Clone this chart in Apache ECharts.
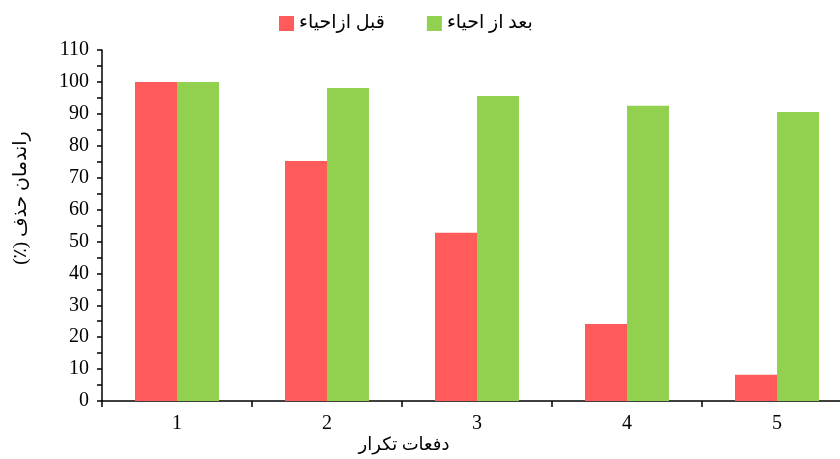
<!DOCTYPE html>
<html>
<head>
<meta charset="utf-8">
<script src="https://cdn.jsdelivr.net/npm/echarts@6/dist/echarts.min.js"></script>
<style>
html,body{margin:0;padding:0;background:#fff}
#chart{width:840px;height:459px}
</style>
</head>
<body>
<div id="chart"></div>
<script>
// داده ها
var categories = ['1', '2', '3', '4', '5']
var beforeName = 'قبل ازاحیاء'
var afterName = 'بعد از احیاء'
var beforeValues = [100, 75.2, 52.7, 24.1, 8.2]
var afterValues = [100, 98.1, 95.6, 92.5, 90.6]
var yTicks = { min: 0, max: 110, step: 10 }

var font = '"Liberation Serif", "DejaVu Serif", "DejaVu Sans", serif'

var chart = echarts.init(document.getElementById('chart'))
chart.setOption({
  animation: false,
  color: ['#FF5B5B', '#92D050'],
  textStyle: { fontFamily: font, color: '#000' },
  title: {
    text: 'دفعات تکرار',
    left: 399,
    top: 431,
    textAlign: 'center',
    textStyle: { fontFamily: font, fontSize: 18, fontWeight: 'normal', color: '#000' }
  },
  // عنوان محور عمودی
  graphic: [{
    type: 'text',
    x: 21,
    y: 198,
    rotation: Math.PI / 2,
    style: {
      text: 'راندمان حذف (٪)\u200F',
      font: '19px ' + font,
      fill: '#000',
      align: 'center',
      verticalAlign: 'middle'
    }
  }],
  legend: {
    left: 274,
    top: 9,
    icon: 'rect',
    itemWidth: 15,
    itemHeight: 15,
    itemGap: 42,
    textStyle: { fontFamily: font, fontSize: 19, color: '#000' },
    data: [beforeName, afterName]
  },
  grid: { left: 102, top: 50, width: 750, height: 351, outerBoundsMode: 'none' },
  xAxis: {
    type: 'category',
    data: categories,
    axisLine: { lineStyle: { color: '#000', width: 1.5 } },
    axisTick: { show: true, length: 6, lineStyle: { color: '#000', width: 1.5 } },
    axisLabel: { color: '#000', fontSize: 20, fontFamily: font, margin: 13 }
  },
  yAxis: {
    type: 'value',
    min: yTicks.min,
    max: yTicks.max,
    interval: yTicks.step,
    axisLine: { show: true, lineStyle: { color: '#000', width: 1.5 } },
    axisTick: { show: true, length: 5, lineStyle: { color: '#000', width: 1.5 } },
    minorTick: { show: true, splitNumber: 2, length: 5, lineStyle: { color: '#000', width: 1.5 } },
    splitLine: { show: false },
    axisLabel: { color: '#000', fontSize: 20, fontFamily: font, margin: 13 }
  },
  series: [
    { name: beforeName, type: 'bar', data: beforeValues, barGap: '0%', barCategoryGap: '44%' },
    { name: afterName, type: 'bar', data: afterValues, barGap: '0%', barCategoryGap: '44%' }
  ]
})
</script>
</body>
</html>
